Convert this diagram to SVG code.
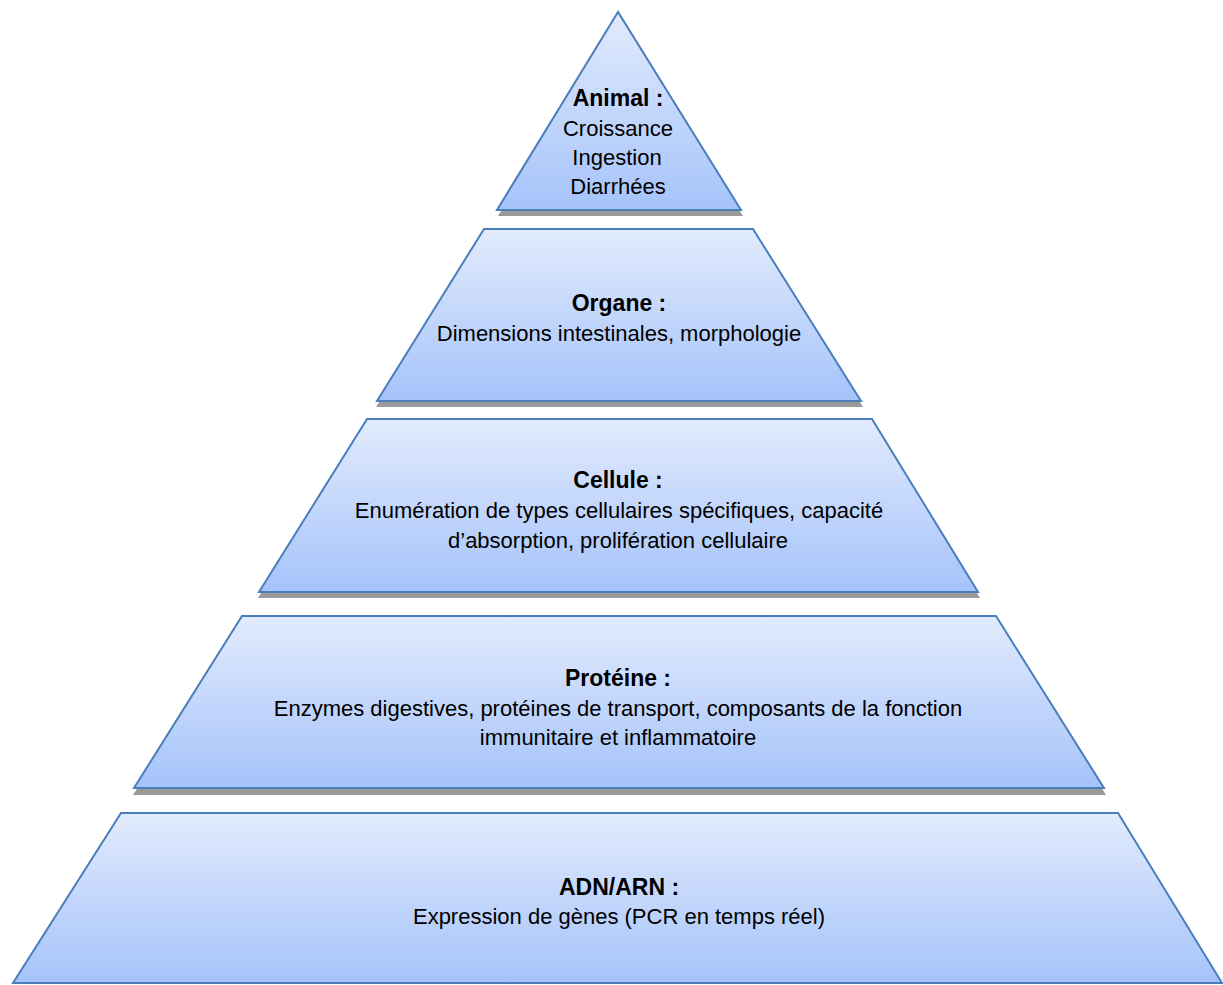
<svg xmlns="http://www.w3.org/2000/svg" width="1223" height="985" viewBox="0 0 1223 985">
<style>
.tier{fill:url(#g);stroke:#4a7ebb;stroke-width:2;stroke-linejoin:miter}
.sh{fill:#9a9a9a}
text{font-family:"Liberation Sans",Arial,sans-serif;font-size:22px;fill:#000;text-anchor:middle}
.b{font-weight:bold;font-size:23px}
</style>
<defs>
<linearGradient id="g" x1="0" y1="0" x2="0" y2="1">
<stop offset="0" stop-color="#e2ebfd"/>
<stop offset="1" stop-color="#a5c3fa"/>
</linearGradient>
</defs>
<rect width="1223" height="985" fill="#fff"/>
<g id="animal">
<polygon class="sh" points="619,18 498,216 743,216"/>
<polygon class="tier" points="618,12 497,210 741,210"/>
<text class="b" x="618" y="106">Animal :</text>
<text x="618" y="136">Croissance</text>
<text x="617" y="165">Ingestion</text>
<text x="618" y="194">Diarrhées</text>
</g>
<g id="organe">
<polygon class="sh" points="485,235 754,235 863,407 376,407"/>
<polygon class="tier" points="484,229 753,229 861,401 377,401"/>
<text class="b" x="619" y="311">Organe :</text>
<text x="619" y="341">Dimensions intestinales, morphologie</text>
</g>
<g id="cellule">
<polygon class="sh" points="368,425 873,425 980,598 258,598"/>
<polygon class="tier" points="367,419 872,419 978,592 259,592"/>
<text class="b" x="618" y="488">Cellule :</text>
<text x="619" y="518">Enumération de types cellulaires spécifiques, capacité</text>
<text x="618" y="548">d’absorption, prolifération cellulaire</text>
</g>
<g id="proteine">
<polygon class="sh" points="243,622 997,622 1106,795 133,795"/>
<polygon class="tier" points="242,616 996,616 1104,788 134,788"/>
<text class="b" x="618" y="686">Protéine :</text>
<text x="618" y="716">Enzymes digestives, protéines de transport, composants de la fonction</text>
<text x="618" y="745">immunitaire et inflammatoire</text>
</g>
<g id="adn">
<polygon class="tier" points="121,813 1118,813 1222,983 13,983"/>
<text class="b" x="619" y="895">ADN/ARN :</text>
<text x="619" y="924">Expression de gènes (PCR en temps réel)</text>
</g>
<g id="connectors"/>
</svg>
